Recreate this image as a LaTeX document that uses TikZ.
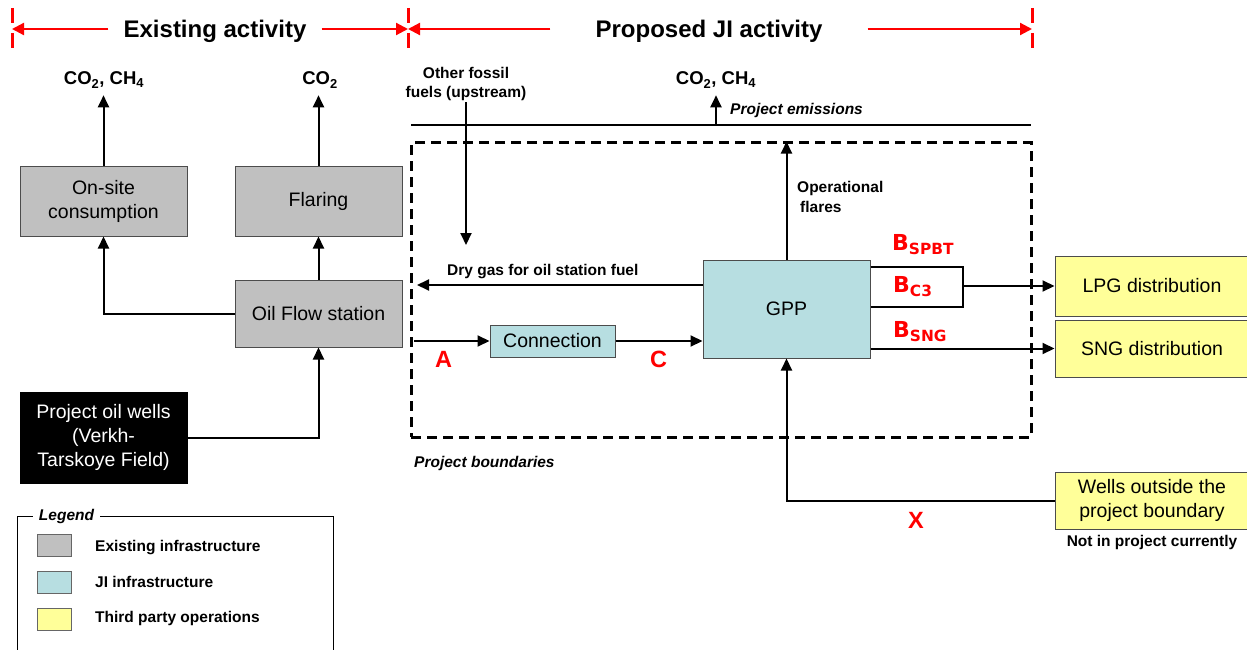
\documentclass[tikz,border=0pt]{standalone}
\usepackage{fontspec}
\setmainfont{Liberation Sans}
\newfontfamily\dejavu{DejaVu Sans}
\usetikzlibrary{arrows.meta}
\definecolor{existfill}{HTML}{C0C0C0}
\definecolor{jifill}{HTML}{B7DEE1}
\definecolor{thirdfill}{HTML}{FFFF99}
\definecolor{hdred}{HTML}{FF0000}
\begin{document}
\begin{tikzpicture}[x=1pt,y=-1pt,
  sized/.style n args={2}{minimum width=#1,minimum height=#2},
  unit/.style={draw=black!70, line width=1pt, inner sep=0pt, align=center,
    font=\fontsize{19.5}{24}\selectfont},
  arr/.style={draw=black, line width=2pt, -{Triangle[length=12pt,width=11pt]}},
  link/.style={draw=black, line width=2pt},
  redarrow/.style={draw=hdred, line width=2.2pt, -{Triangle[length=12pt,width=12pt]}},
  marker/.style={draw=hdred, line width=3pt, dash pattern=on 15pt off 10pt},
  heading/.style={font=\fontsize{24}{28}\selectfont\bfseries, inner ysep=0pt},
  small/.style={font=\fontsize{15.5}{19.5}\selectfont\bfseries, inner sep=1pt},
  smallit/.style={font=\fontsize{15.5}{19.5}\selectfont\bfseries\itshape, inner sep=1pt},
  emis/.style={font=\fontsize{18.5}{21}\selectfont\bfseries, inner xsep=0pt, inner ysep=7pt},
  redlbl/.style={text=hdred, font=\fontsize{23.5}{26}\selectfont\bfseries, inner sep=0pt},
  blbl/.style={text=hdred, font=\dejavu\fontsize{22}{24}\selectfont\bfseries, inner sep=0pt},
  bndbox/.style={draw=black, line width=3pt, dash pattern=on 10pt off 6pt, inner sep=0pt},
  keybox/.style={draw=black!60, line width=1pt, sized={34}{22}, inner sep=0pt},
]
\useasboundingbox (0,0) rectangle (1247,650);

% ---- activity headers ----
\coordinate (m1) at (12,29);
\coordinate (m2) at (408,29);
\coordinate (m3) at (1032,29);
\foreach \m in {m1,m2,m3} \draw[marker] (\m) ++(0,-21) -- ++(0,42);
\node[heading, inner xsep=15pt] (hexist) at (215,31) {Existing activity};
\node[heading, inner xsep=45pt] (hprop) at (709,31) {Proposed JI activity};
\draw[redarrow] (hexist.west |- m1) -- (m1);
\draw[redarrow] (hexist.east |- m2) -- (m2);
\draw[redarrow] (hprop.west |- m2) -- (m2);
\draw[redarrow] (hprop.east |- m3) -- (m3);

% ---- existing infrastructure ----
\node[unit, fill=existfill, sized={167}{70}] (onsite) at (103.5,201) {On-site\\consumption};
\node[unit, fill=existfill, sized={167}{70}] (flaring) at (318.5,201) {Flaring};
\node[unit, fill=existfill, sized={167}{67}] (oilflow) at (318.5,313.5) {Oil Flow station};
\node[unit, fill=black, draw=black, text=white, sized={167}{91}] (wells) at (103.5,437.5)
  {Project oil wells\\(Verkh-\\Tarskoye Field)};

\node[emis, anchor=base] (e1) at (104,85) {CO\textsubscript{2}, CH\textsubscript{4}};
\node[emis, anchor=base] (e2) at (320,85) {CO\textsubscript{2}};
\draw[arr] (onsite.north) -- (onsite.north |- e1.south);
\draw[arr] (flaring.north) -- (flaring.north |- e2.south);
\draw[arr] (oilflow.west) -| (onsite.south);
\draw[arr] (oilflow.north) -- (flaring.south);
\draw[arr] (wells.east) -| (oilflow.south);

% ---- project boundary and emissions ----
\node[bndbox, sized={620}{294}] (bnd) at (721,290) {};
\node[smallit, anchor=west] (bndlbl) at (413,463) {Project boundaries};
\coordinate (pL) at (411,125);
\coordinate (pR) at (1031,125);
\draw[link] (pL) -- (pR);
\node[emis, anchor=base] (e3) at (716,85) {CO\textsubscript{2}, CH\textsubscript{4}};
\draw[arr] (e3.south |- pL) -- (e3.south);
\node[smallit, anchor=west] (pem) at (729,110) {Project emissions};

\node[small, align=center] (fossil) at (466,84) {Other fossil\\fuels (upstream)};
\coordinate (fossilend) at (466,245);
\draw[arr] (fossil.south) -- (fossilend);

% ---- JI infrastructure ----
\node[unit, fill=jifill, sized={167}{98}] (gpp) at (786.5,309) {GPP};
\node[unit, fill=jifill, sized={125}{32}] (conn) at (552.5,341) {Connection};

\coordinate (dgend) at (417,285);
\draw[arr] (gpp.west |- dgend) -- (dgend);
\node[small, anchor=base west] (dglbl) at (446,275) {Dry gas for oil station fuel};

\coordinate (ain) at (414,341);
\draw[arr] (ain) -- (conn.west);
\draw[arr] (conn.east) -- (conn.east -| gpp.west);
\node[redlbl, anchor=base] (la) at (443.5,367) {A};
\node[redlbl, anchor=base] (lc) at (658.5,367) {C};

\draw[arr] (gpp.north) -- (gpp.north |- bnd.north);
\node[small, anchor=base west, align=left] (flbl) at (796,212) {Operational\\\hspace{3pt}flares};

% ---- products ----
\node[unit, fill=thirdfill, sized={194}{60}] (lpg) at (1152,286) {LPG distribution};
\node[unit, fill=thirdfill, sized={194}{57}] (sng) at (1152,348.5) {SNG distribution};
\node[unit, fill=thirdfill, sized={194}{57}] (wout) at (1152,500.5) {Wells outside the\\project boundary};
\node[small] (nipc) at (1152,542) {Not in project currently};

\coordinate (bt) at (963,267);
\coordinate (bb) at (963,307);
\coordinate (bm) at (963,286);
\draw[link] (gpp.east |- bt) -- (bt) -- (bb) -- (gpp.east |- bb);
\draw[arr] (bm) -- (bm -| lpg.west);
\draw[arr] (gpp.east |- sng.west) -- (sng.west);
\draw[arr] (wout.west) -| (gpp.south);

\node[blbl, anchor=base west] (bspbt) at (892,250) {B\textsubscript{SPBT}};
\node[blbl, anchor=base west] (bc3) at (893,292) {B\textsubscript{C3}};
\node[blbl, anchor=base west] (bsng) at (893,337) {B\textsubscript{SNG}};
\node[redlbl, anchor=base] (lx) at (916,528) {X};

% ---- legend ----
\node[draw=black, line width=1pt, sized={316}{140}, inner sep=0pt] (legend) at (175,586) {};
\node[smallit, fill=white, inner xsep=6pt] (legendlbl) at (66.5,516) {Legend};
\node[keybox, fill=existfill] (k1) at (54,545) {};
\node[keybox, fill=jifill] (k2) at (54,582) {};
\node[keybox, fill=thirdfill] (k3) at (54,619.5) {};
\node[small, anchor=base west] (t1) at (94,551) {Existing infrastructure};
\node[small, anchor=base west] (t2) at (94,587) {JI infrastructure};
\node[small, anchor=base west] (t3) at (94,622) {Third party operations};
\end{tikzpicture}
\end{document}
